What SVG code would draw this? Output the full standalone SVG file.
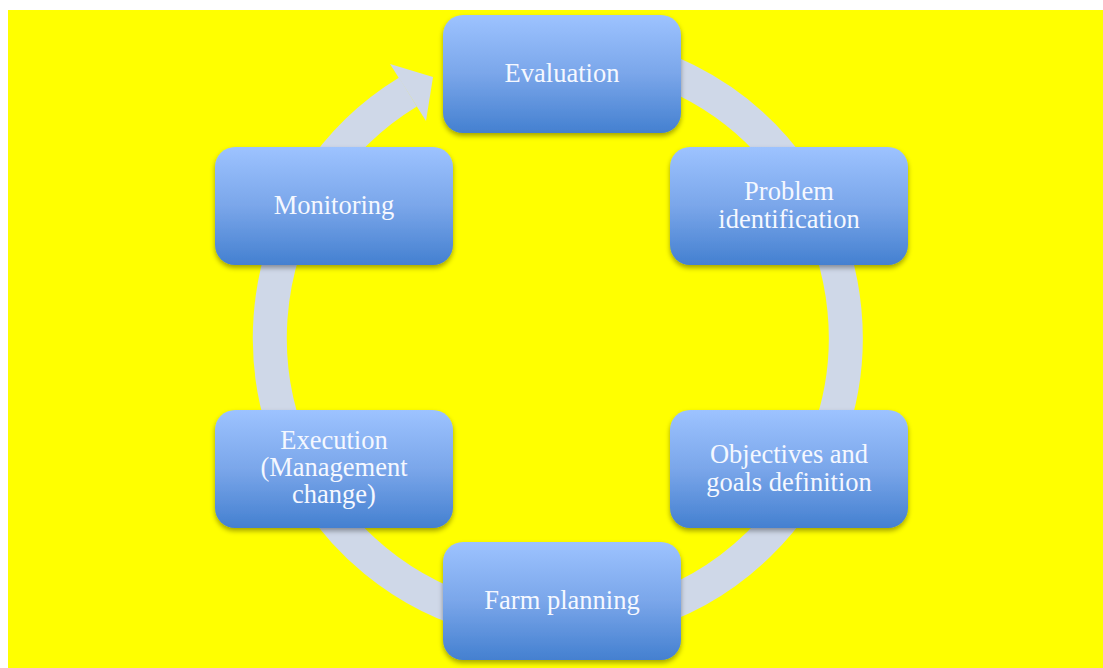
<svg xmlns="http://www.w3.org/2000/svg" width="1103" height="668" viewBox="0 0 1103 668">
<style>
.node rect{fill:url(#g);filter:url(#sh)}
.node text{font-family:"Liberation Serif","DejaVu Serif",serif;font-size:26.5px;fill:#f5f8ff;text-anchor:middle}
</style>
<defs>
<linearGradient id="g" x1="0" y1="0" x2="0" y2="1">
<stop offset="0" stop-color="#9dc3ff"/>
<stop offset="0.5" stop-color="#7aa6ea"/>
<stop offset="1" stop-color="#4480d0"/>
</linearGradient>
<filter id="sh" x="-10%" y="-10%" width="120%" height="130%">
<feDropShadow dx="0" dy="3" stdDeviation="2.5" flood-color="#000" flood-opacity="0.35"/>
</filter>
</defs>
<rect x="0" y="0" width="1103" height="668" fill="#fff"/>
<rect x="8" y="10" width="1095" height="658" fill="#ffff00"/>
<g id="connectors">
<path d="M562 50 A288 288 0 1 1 408 92" fill="none" stroke="#cfd8e8" stroke-width="34"/>
<polygon points="433,77 390,64 426,121" fill="#cfd8e8"/>
</g>
<g id="n1" class="node"><rect x="443" y="15" width="238" height="118" rx="20"/><text x="562" y="82">Evaluation</text></g>
<g id="n2" class="node"><rect x="670" y="147" width="238" height="118" rx="20"/><text x="789" y="200">Problem</text><text x="789" y="228">identification</text></g>
<g id="n3" class="node"><rect x="670" y="410" width="238" height="118" rx="20"/><text x="789" y="463">Objectives and</text><text x="789" y="491">goals definition</text></g>
<g id="n4" class="node"><rect x="443" y="542" width="238" height="118" rx="20"/><text x="562" y="609">Farm planning</text></g>
<g id="n5" class="node"><rect x="215" y="410" width="238" height="118" rx="20"/><text x="334" y="449">Execution</text><text x="334" y="476">(Management</text><text x="334" y="503">change)</text></g>
<g id="n6" class="node"><rect x="215" y="147" width="238" height="118" rx="20"/><text x="334" y="214">Monitoring</text></g>
</svg>
